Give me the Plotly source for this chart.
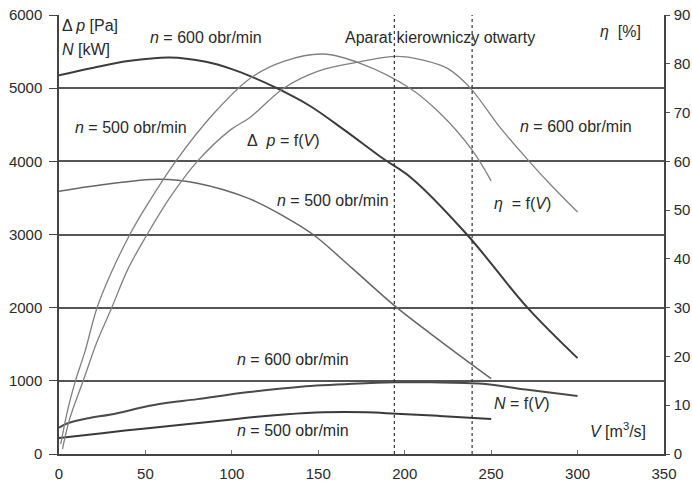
import plotly.graph_objects as go

# --- data ---
# Pressure Δp [Pa], n = 600 obr/min
dp600_x = [0, 20, 40, 64, 85, 100, 112, 126, 145, 165, 187, 204, 236, 271, 300]
dp600_y = [5175, 5280, 5370, 5420, 5360, 5260, 5150, 5000, 4760, 4430, 4045, 3770, 3000, 2000, 1310]
# Pressure Δp [Pa], n = 500 obr/min
dp500_x = [0, 25, 58, 80, 110, 130, 147, 170, 195.5, 222, 250]
dp500_y = [3590, 3680, 3755, 3700, 3490, 3250, 3000, 2530, 2000, 1520, 1030]
# Efficiency η [%], n = 500 obr/min
eta500_x = [1, 5, 9.5, 15, 22, 30, 41, 50, 67.5, 90, 110.5, 130, 153, 175, 203, 220, 239, 250]
eta500_y = [2, 9, 15, 21, 30, 37, 45, 50.5, 60, 70, 77, 80.5, 82, 80, 75, 70, 62.3, 56]
# Efficiency η [%], n = 600 obr/min
eta600_x = [2, 6, 14, 22, 30.5, 40, 51, 65, 80, 99, 110.5, 130, 150, 174, 195, 210, 225, 238, 255, 272, 285, 300]
eta600_y = [1, 7, 15, 23, 30, 38, 45, 53, 60, 66.4, 69, 75, 78.5, 80.4, 81.5, 80.8, 79, 75, 67, 60, 55, 49.6]
# Power N [kW], n = 600 obr/min
n600_x = [0, 5, 17, 30, 55, 80, 110, 140, 170, 195, 215, 245, 270, 300]
n600_y = [360, 420, 490, 540, 670, 750, 847, 920, 960, 980, 980, 960, 880, 793]
# Power N [kW], n = 500 obr/min
n500_x = [0, 25, 50, 75, 100, 113, 130, 153, 178, 195, 220, 250]
n500_y = [218, 285, 350, 410, 470, 506, 540, 570, 570, 550, 520, 478]
# Guide vane fully open markers
open_x = [194, 239]

x_ticks = [0, 50, 100, 150, 200, 250, 300, 350]
left_ticks = [0, 1000, 2000, 3000, 4000, 5000, 6000]
right_ticks = [0, 10, 20, 30, 40, 50, 60, 70, 80, 90]

FONT = "Liberation Sans, Arial, Helvetica, sans-serif"
TXT = "#2a2a2a"

fig = go.Figure()

def line(x, y, color, width, axis="y"):
    fig.add_trace(go.Scatter(x=x, y=y, mode="lines", yaxis=axis,
                             line=dict(color=color, width=width, shape="spline", smoothing=1.0),
                             hoverinfo="skip", showlegend=False))

line(eta500_x, eta500_y, "#808080", 1.3, "y2")
line(eta600_x, eta600_y, "#808080", 1.3, "y2")
line(dp500_x, dp500_y, "#666666", 1.5)
line(dp600_x, dp600_y, "#3c3c3c", 2.0)
line(n600_x, n600_y, "#4a4a4a", 2.0)
line(n500_x, n500_y, "#3a3a3a", 2.0)

for xv in open_x:
    fig.add_shape(type="line", xref="x", yref="paper", x0=xv, x1=xv, y0=0, y1=1,
                  line=dict(color="#333333", width=1.2, dash="dot"))

ann = [
    ("Δ <i>p</i> [Pa]", 0.6, 5863),
    ("<i>N</i> [kW]", 0.6, 5535),
    ("<i>n</i> = 600 obr/min", 51.5, 5699),
    ("Aparat kierowniczy otwarty", 164.3, 5699),
    ("<i>η</i>&nbsp; [%]", 311.8, 5780),
    ("<i>n</i> = 500 obr/min", 8.1, 4469),
    ("Δ&nbsp; <i>p</i> = f(<i>V</i>)", 107.6, 4291),
    ("<i>n</i> = 600 obr/min", 265.5, 4480),
    ("<i>n</i> = 500 obr/min", 125, 3458),
    ("<i>η</i>&nbsp; = f(<i>V</i>)", 250.5, 3430),
    ("<i>n</i> = 600 obr/min", 101.8, 1298),
    ("<i>N</i> = f(<i>V</i>)", 250.5, 697),
    ("<i>V</i> [m<sup>3</sup>/s]", 306, 328),
    ("<i>n</i> = 500 obr/min", 101.8, 328),
]
for t, xx, yy in ann:
    fig.add_annotation(text=t, x=xx, y=yy, xref="x", yref="y", xanchor="left", yanchor="middle",
                       showarrow=False, font=dict(family=FONT, size=16, color=TXT))

fig.update_layout(
    width=692, height=486,
    margin=dict(l=59, r=28, t=15, b=32, autoexpand=False),
    paper_bgcolor="white", plot_bgcolor="white",
    font=dict(family=FONT, size=15, color=TXT),
    showlegend=False,
    xaxis=dict(range=[0, 350], tickvals=x_ticks, showgrid=False, zeroline=False,
               showline=True, linecolor="#444444", linewidth=1.5, automargin=False,
               ticks="inside", ticklen=4, tickcolor="#777777", ticklabelstandoff=5),
    yaxis=dict(range=[0, 6000], tickvals=left_ticks, showgrid=True, gridcolor="#555555",
               gridwidth=1.5, zeroline=False, showline=True, linecolor="#444444", linewidth=1.5,
               automargin=False,
               ticks="outside", ticklen=8, tickcolor="#444444", ticklabelstandoff=4),
    yaxis2=dict(range=[0, 90], tickvals=right_ticks, overlaying="y", side="right",
                showgrid=False, zeroline=False, showline=True, linecolor="#444444", linewidth=1.5,
                automargin=False,
                ticks="outside", ticklen=4, tickcolor="#555555", ticklabelstandoff=1),
    yaxis3=dict(range=[0, 90], tickvals=right_ticks, overlaying="y", side="right",
                showgrid=False, zeroline=False, showline=False, showticklabels=False,
                automargin=False,
                ticks="inside", ticklen=4, tickcolor="#555555"),
)

fig.write_html("out.html")
